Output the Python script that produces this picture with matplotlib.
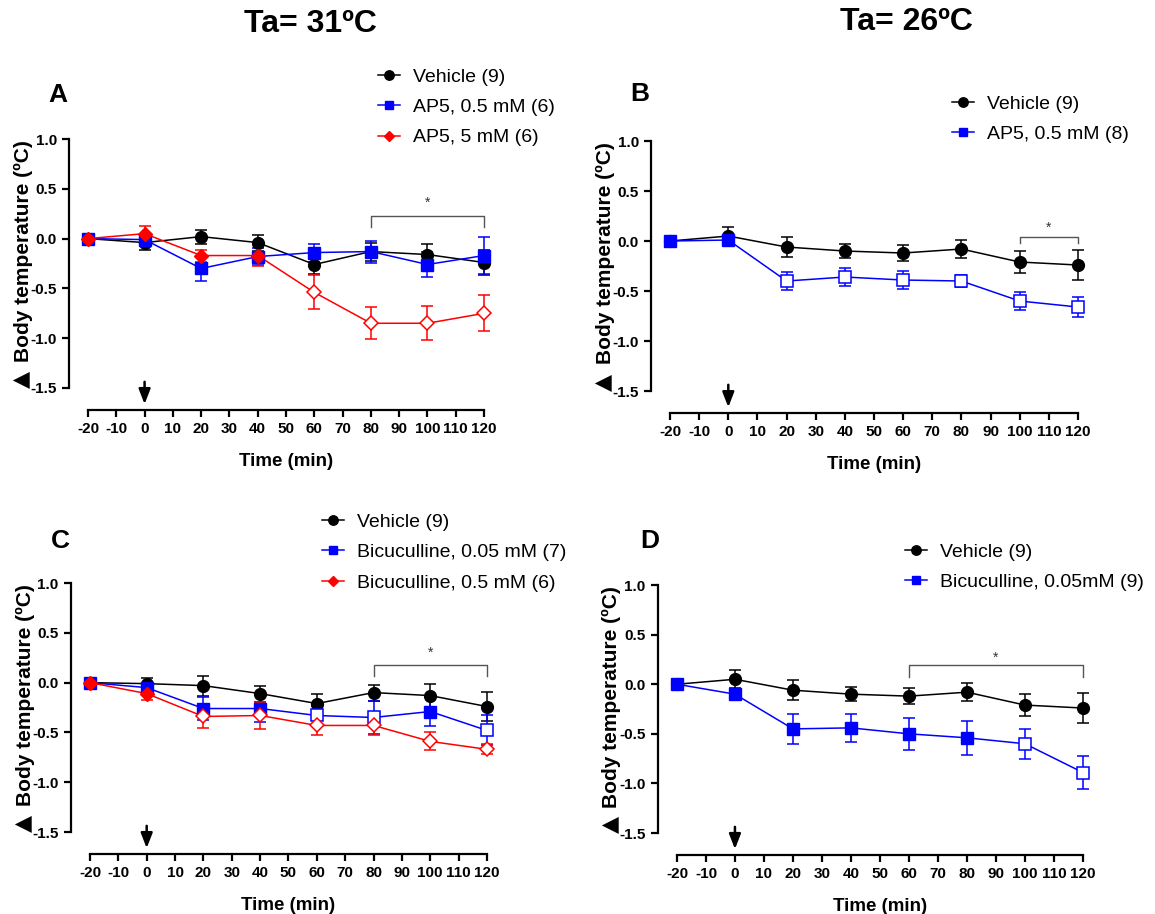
import matplotlib
matplotlib.use('Agg')
import matplotlib.pyplot as plt
import matplotlib.transforms as mtransforms
import numpy as np

plt.rcParams['font.family'] = ['Liberation Sans', 'DejaVu Sans']
plt.rcParams['axes.unicode_minus'] = False

# time points (min)
time = [-20, 0, 20, 40, 60, 80, 100, 120]
x_ticks = list(range(-20, 121, 10))
y_ticks = [-1.5, -1.0, -0.5, 0.0, 0.5, 1.0]

# Panel A  (Ta = 31 C, AP5)
a_veh = [0, -0.04, 0.02, -0.04, -0.26, -0.13, -0.16, -0.24]
a_veh_err = [0.02, 0.07, 0.07, 0.08, 0.10, 0.09, 0.11, 0.13]
a_ap5_lo = [0, -0.01, -0.30, -0.18, -0.14, -0.13, -0.26, -0.17]
a_ap5_lo_err = [0.02, 0.05, 0.13, 0.09, 0.09, 0.11, 0.13, 0.19]
a_ap5_hi = [0, 0.05, -0.17, -0.17, -0.54, -0.85, -0.85, -0.75]
a_ap5_hi_err = [0.02, 0.08, 0.06, 0.11, 0.17, 0.16, 0.17, 0.18]
a_ap5_hi_open = [0, 0, 0, 0, 1, 1, 1, 1]

# Panel B  (Ta = 26 C, AP5)
b_veh = [0, 0.05, -0.06, -0.10, -0.12, -0.08, -0.21, -0.24]
b_veh_err = [0.02, 0.09, 0.10, 0.07, 0.08, 0.09, 0.11, 0.15]
b_ap5 = [0, 0.01, -0.40, -0.36, -0.39, -0.40, -0.60, -0.66]
b_ap5_err = [0.02, 0.03, 0.09, 0.09, 0.09, 0.06, 0.09, 0.10]
b_ap5_open = [0, 0, 1, 1, 1, 1, 1, 1]

# Panel C  (Ta = 31 C, bicuculline)
c_veh = [0, -0.01, -0.03, -0.11, -0.21, -0.10, -0.13, -0.24]
c_veh_err = [0.02, 0.06, 0.10, 0.08, 0.10, 0.08, 0.12, 0.15]
c_bic_lo = [0, -0.05, -0.26, -0.26, -0.33, -0.35, -0.29, -0.48]
c_bic_lo_err = [0.02, 0.04, 0.12, 0.14, 0.10, 0.17, 0.15, 0.15]
c_bic_lo_open = [0, 0, 0, 0, 1, 1, 0, 1]
c_bic_hi = [0, -0.11, -0.34, -0.33, -0.43, -0.43, -0.59, -0.67]
c_bic_hi_err = [0.02, 0.06, 0.12, 0.14, 0.10, 0.10, 0.09, 0.05]
c_bic_hi_open = [0, 0, 1, 1, 1, 1, 1, 1]

# Panel D  (Ta = 26 C, bicuculline)
d_veh = [0, 0.05, -0.06, -0.10, -0.12, -0.08, -0.21, -0.24]
d_veh_err = [0.02, 0.09, 0.10, 0.07, 0.08, 0.09, 0.11, 0.15]
d_bic = [0, -0.10, -0.45, -0.44, -0.50, -0.54, -0.60, -0.89]
d_bic_err = [0.02, 0.05, 0.15, 0.14, 0.16, 0.17, 0.15, 0.17]
d_bic_open = [0, 0, 0, 0, 0, 0, 1, 1]

W, H = 1155, 914


def draw_series(ax, y, err, color, marker, ms, label, open_pts=None):
    if open_pts is None:
        open_pts = [0] * len(y)
    ax.errorbar(time, y, yerr=err, color=color, lw=1.1, capsize=4,
                capthick=1.1, elinewidth=1.1, fmt='none', clip_on=False, zorder=2)
    ax.plot(time, y, color=color, lw=1.1, clip_on=False, zorder=3)
    xs_f = [t for t, o in zip(time, open_pts) if not o]
    ys_f = [v for v, o in zip(y, open_pts) if not o]
    xs_o = [t for t, o in zip(time, open_pts) if o]
    ys_o = [v for v, o in zip(y, open_pts) if o]
    ax.plot(xs_f, ys_f, ls='none', marker=marker, ms=ms, color=color,
            mec=color, clip_on=False, zorder=4)
    if xs_o:
        ax.plot(xs_o, ys_o, ls='none', marker=marker, ms=ms, mfc='white',
                mec=color, mew=1.1, clip_on=False, zorder=4)
    # legend proxy
    ax.plot([], [], color=color, lw=1.1, marker=marker, ms=ms * 0.8, label=label)


def style_axes(ax):
    ax.set_xlim(-20, 120)
    ax.set_ylim(-1.5, 1.0)
    for s in ['top', 'right']:
        ax.spines[s].set_visible(False)
    ax.spines['left'].set_position(('outward', 14))
    ax.spines['bottom'].set_position(('outward', 15.5))
    ax.spines['left'].set_linewidth(1.6)
    ax.spines['bottom'].set_linewidth(1.6)
    ax.set_xticks(x_ticks)
    ax.set_yticks(y_ticks)
    ax.set_yticklabels([f'{v:.1f}' for v in y_ticks])
    ax.tick_params(width=1.6, length=5)
    ax.tick_params(axis='x', labelsize=11, pad=4)
    ax.tick_params(axis='y', labelsize=11)
    for lab in ax.get_xticklabels() + ax.get_yticklabels():
        lab.set_fontweight('bold')
    ax.set_xlabel('Time (min)', fontsize=13.5, fontweight='bold', labelpad=12)
    # y label: big rotated triangle + text
    tr = mtransforms.offset_copy(ax.transAxes, fig=ax.figure, x=-65, y=0, units='dots')
    ax.text(0, 0.55, 'Body temperature (ºC)', transform=tr, rotation=90,
            ha='center', va='center', fontsize=15, fontweight='bold')
    tr2 = mtransforms.offset_copy(ax.transAxes, fig=ax.figure, x=-67, y=0, units='dots')
    ax.text(0, 0.036, '\u25B2', transform=tr2, rotation=90, ha='center',
            va='center', fontsize=16, family='DejaVu Sans')
    ax.annotate('', xy=(0, -1.69), xytext=(0, -1.41),
                arrowprops=dict(arrowstyle='-|>,head_width=0.35,head_length=0.9',
                                color='black', lw=1.8),
                annotation_clip=False)


def bracket(ax, x0, x1, y, y_tick, y_star):
    ax.plot([x0, x0, x1, x1], [y_tick, y, y, y_tick], color='#555555', lw=1.0,
            clip_on=False)
    ax.text((x0 + x1) / 2, y_star, '*', ha='center', va='center', fontsize=10,
            color='#333333')


fig = plt.figure(figsize=(W / 100, H / 100), dpi=100)
axA = fig.add_axes([0.0762, 0.5755, 0.3429, 0.2724])
axB = fig.add_axes([0.5801, 0.5722, 0.3532, 0.2735])
axC = fig.add_axes([0.0779, 0.0897, 0.3437, 0.2724])
axD = fig.add_axes([0.5861, 0.0886, 0.3515, 0.2713])

# A
draw_series(axA, a_veh, a_veh_err, 'black', 'o', 8.5, 'Vehicle (9)')
draw_series(axA, a_ap5_lo, a_ap5_lo_err, 'blue', 's', 8, 'AP5, 0.5 mM (6)')
draw_series(axA, a_ap5_hi, a_ap5_hi_err, 'red', 'D', 7, 'AP5, 5 mM (6)', a_ap5_hi_open)
style_axes(axA)
bracket(axA, 80, 120, 0.23, 0.12, 0.36)

# B
draw_series(axB, b_veh, b_veh_err, 'black', 'o', 8.5, 'Vehicle (9)')
draw_series(axB, b_ap5, b_ap5_err, 'blue', 's', 8, 'AP5, 0.5 mM (8)', b_ap5_open)
style_axes(axB)
bracket(axB, 100, 120, 0.04, -0.02, 0.13)

# C
draw_series(axC, c_veh, c_veh_err, 'black', 'o', 8.5, 'Vehicle (9)')
draw_series(axC, c_bic_lo, c_bic_lo_err, 'blue', 's', 8, 'Bicuculline, 0.05 mM (7)', c_bic_lo_open)
draw_series(axC, c_bic_hi, c_bic_hi_err, 'red', 'D', 7, 'Bicuculline, 0.5 mM (6)', c_bic_hi_open)
style_axes(axC)
bracket(axC, 80, 120, 0.18, 0.07, 0.30)

# D
draw_series(axD, d_veh, d_veh_err, 'black', 'o', 8.5, 'Vehicle (9)')
draw_series(axD, d_bic, d_bic_err, 'blue', 's', 8, 'Bicuculline, 0.05mM (9)', d_bic_open)
style_axes(axD)
bracket(axD, 60, 120, 0.19, 0.07, 0.27)

legend_kw = dict(frameon=False, fontsize=14, handlelength=1.15, handletextpad=0.65,
                 labelspacing=0.66, borderaxespad=0, borderpad=0,
                 bbox_transform=fig.transFigure, loc='upper left')
for ax, (px, py) in zip([axA, axB, axC, axD],
                        [(378, 68), (952, 95), (322, 513), (905, 543)]):
    ax.legend(bbox_to_anchor=(px / W, 1 - py / H), **legend_kw)

fig.text(310 / W, 1 - 24 / H, 'Ta= 31ºC', ha='center', va='center',
         fontsize=23, fontweight='bold')
fig.text(906 / W, 1 - 22 / H, 'Ta= 26ºC', ha='center', va='center',
         fontsize=23, fontweight='bold')
for lab, (px, py) in zip('ABCD', [(58, 95), (640, 94), (60, 541), (650, 541)]):
    fig.text(px / W, 1 - py / H, lab, ha='center', va='center',
             fontsize=19, fontweight='bold')

fig.savefig('out.png', dpi=100)
